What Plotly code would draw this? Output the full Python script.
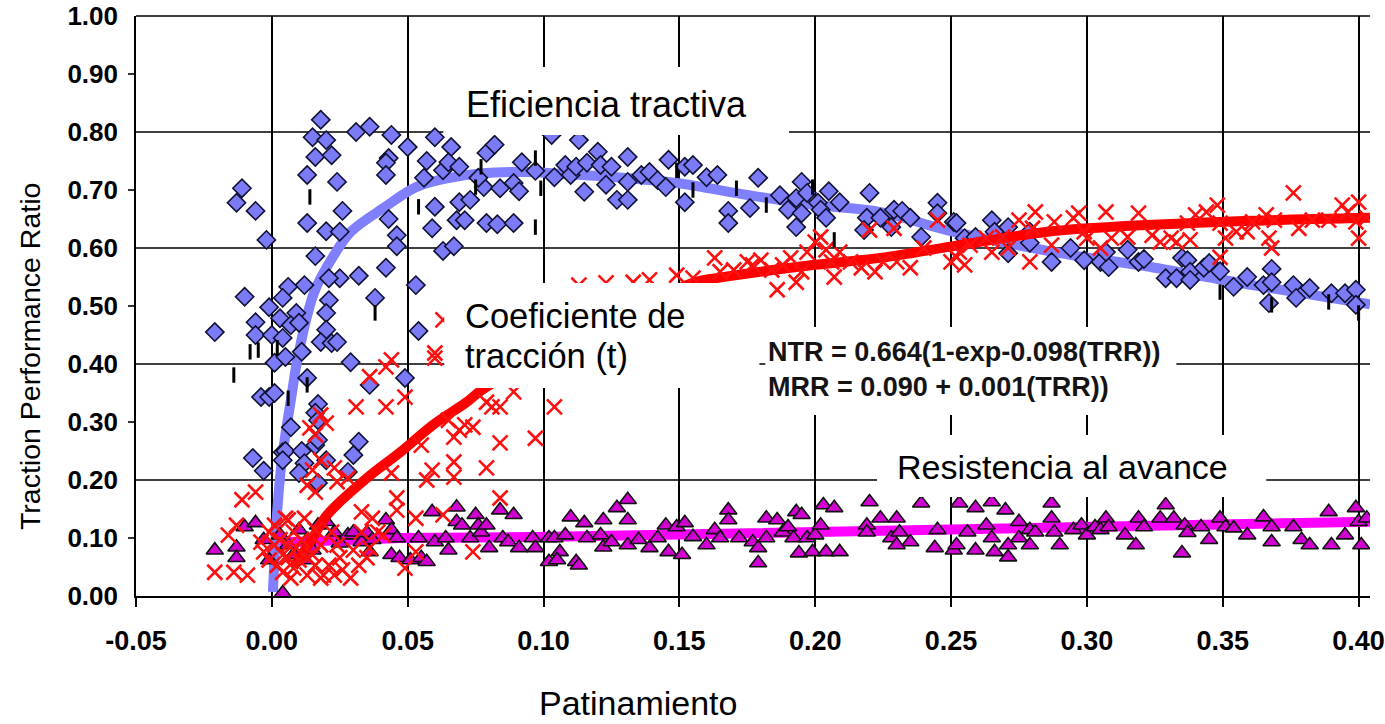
import plotly.graph_objects as go

# ---- Eficiencia tractiva (diamonds) ----
ef_x = [0.018, 0.015, 0.020, 0.031, 0.036, 0.044, 0.050, 0.060, 0.066, 0.016, 0.022, 0.043, 0.042, 0.042, 0.013,
        0.024, 0.057, 0.056, 0.063, 0.065, 0.069, 0.079, 0.082, 0.092, 0.097, 0.078, 0.084, 0.089, 0.091, -0.011,
        -0.013, -0.006, -0.002, 0.026, 0.013, 0.020, 0.025, 0.043, 0.046, 0.046, 0.060, 0.059, 0.069, 0.073, 0.068,
        0.071, 0.079, 0.083, 0.089, 0.063, 0.067, 0.016, 0.042, 0.032, 0.025, 0.021, 0.053, 0.012, 0.006, -0.010,
        0.004, 0.038, -0.001, 0.021, 0.020, 0.009, 0.003, -0.006, 0.007, 0.010, -0.021, 0.020, 0.054, -0.006, 0.000,
        0.004, 0.018, 0.022, 0.024, 0.011, 0.001, 0.005, 0.029, 0.013, 0.036, 0.049, -0.004, -0.001, 0.001, 0.017,
        0.016, 0.007, 0.017, 0.032, 0.030, -0.007, -0.003, 0.004, 0.005, 0.004, 0.011, 0.016, 0.017, 0.012, 0.010,
        0.017, 0.020, 0.028, 0.103, 0.076, 0.113, 0.104, 0.108, 0.110, 0.112, 0.116, 0.120, 0.121, 0.125, 0.115,
        0.123, 0.127, 0.131, 0.131, 0.131, 0.136, 0.139, 0.142, 0.145, 0.146, 0.152, 0.155, 0.152, 0.160, 0.164,
        0.168, 0.168, 0.176, 0.179, 0.187, 0.190, 0.193, 0.193, 0.195, 0.197, 0.195, 0.201, 0.202, 0.204, 0.205,
        0.209, 0.220, 0.219, 0.218, 0.224, 0.228, 0.229, 0.232, 0.235, 0.239, 0.245, 0.245, 0.251, 0.255, 0.259,
        0.265, 0.266, 0.271, 0.271, 0.279, 0.279, 0.287, 0.294, 0.299, 0.305, 0.308, 0.307, 0.315, 0.319, 0.321,
        0.329, 0.333, 0.335, 0.337, 0.338, 0.338, 0.343, 0.345, 0.349, 0.354, 0.359, 0.365, 0.368, 0.368, 0.367,
        0.376, 0.377, 0.382, 0.390, 0.395, 0.399, 0.399, 0.252]
ef_y = [0.821, 0.791, 0.786, 0.800, 0.809, 0.795, 0.774, 0.791, 0.774, 0.757, 0.760, 0.755, 0.747, 0.726, 0.726,
        0.714, 0.750, 0.721, 0.734, 0.748, 0.740, 0.764, 0.778, 0.748, 0.733, 0.705, 0.703, 0.712, 0.698, 0.703,
        0.678, 0.664, 0.614, 0.664, 0.643, 0.629, 0.628, 0.650, 0.622, 0.603, 0.671, 0.634, 0.679, 0.683, 0.648,
        0.648, 0.643, 0.641, 0.643, 0.595, 0.603, 0.586, 0.566, 0.552, 0.548, 0.548, 0.536, 0.536, 0.533, 0.516,
        0.514, 0.514, 0.498, 0.510, 0.488, 0.488, 0.479, 0.472, 0.467, 0.471, 0.455, 0.459, 0.457, 0.450, 0.450,
        0.445, 0.438, 0.436, 0.438, 0.421, 0.402, 0.412, 0.403, 0.376, 0.364, 0.376, 0.343, 0.343, 0.350, 0.331,
        0.316, 0.291, 0.303, 0.266, 0.243, 0.238, 0.216, 0.248, 0.250, 0.234, 0.250, 0.260, 0.269, 0.229, 0.212,
        0.195, 0.234, 0.214, 0.795, 0.721, 0.786, 0.722, 0.743, 0.726, 0.740, 0.747, 0.766, 0.743, 0.740, 0.697,
        0.709, 0.683, 0.683, 0.714, 0.757, 0.726, 0.731, 0.717, 0.705, 0.752, 0.740, 0.743, 0.679, 0.722, 0.726,
        0.664, 0.643, 0.669, 0.721, 0.691, 0.666, 0.636, 0.686, 0.714, 0.695, 0.660, 0.678, 0.666, 0.652, 0.698,
        0.679, 0.695, 0.652, 0.631, 0.652, 0.636, 0.666, 0.664, 0.652, 0.619, 0.678, 0.660, 0.645, 0.617, 0.619,
        0.648, 0.628, 0.636, 0.591, 0.628, 0.609, 0.576, 0.600, 0.579, 0.576, 0.567, 0.593, 0.597, 0.576, 0.581,
        0.548, 0.548, 0.583, 0.579, 0.559, 0.545, 0.566, 0.574, 0.560, 0.533, 0.550, 0.536, 0.564, 0.541, 0.505,
        0.536, 0.514, 0.531, 0.522, 0.522, 0.528, 0.502, 0.643]

# ---- Coeficiente de traccion (crosses) ----
ct_x = [0.044, 0.042, 0.036, 0.049, 0.060, 0.031, 0.042, 0.018, 0.020, 0.014, 0.016, 0.089, 0.104, 0.081, 0.084,
        0.079, 0.071, 0.074, 0.069, 0.065, 0.067, 0.084, 0.097, 0.067, 0.079, 0.059, 0.057, 0.067, 0.055, 0.044,
        0.018, 0.015, 0.023, 0.024, 0.013, 0.016, 0.028, 0.084, 0.046, 0.046, 0.053, 0.063, 0.037, -0.006, -0.011,
        -0.013, -0.016, -0.021, -0.014, -0.009, -0.003, 0.001, 0.006, 0.004, 0.007, 0.013, 0.018, 0.023, 0.029,
        0.013, 0.008, 0.012, 0.018, 0.022, 0.025, 0.033, 0.035, 0.039, 0.033, 0.036, 0.041, 0.049, 0.053, 0.074,
        -0.001, 0.005, -0.004, 0.002, 0.009, 0.016, 0.019, 0.060, 0.063,
        0.003, 0.006, 0.010, 0.015, 0.021, 0.026, 0.004, 0.008, 0.011, 0.016, 0.001, 0.024, 0.030, 0.032, 0.006,
        -0.001,
        0.113, 0.123, 0.133, 0.139, 0.149, 0.155, 0.163, 0.165, 0.170, 0.175, 0.177, 0.180, 0.184, 0.186, 0.188,
        0.191, 0.193, 0.195, 0.197, 0.200, 0.202, 0.204, 0.206, 0.207, 0.209, 0.213, 0.217, 0.220, 0.222, 0.225,
        0.229, 0.230, 0.235, 0.240, 0.245, 0.250, 0.253, 0.252, 0.255, 0.257, 0.263, 0.265, 0.269, 0.271, 0.275,
        0.279, 0.281, 0.280, 0.288, 0.287, 0.295, 0.297, 0.299, 0.300, 0.305, 0.307, 0.309, 0.315, 0.319, 0.324,
        0.327, 0.331, 0.333, 0.337, 0.338, 0.340, 0.344, 0.348, 0.349, 0.349, 0.351, 0.355, 0.359, 0.361, 0.366,
        0.367, 0.368, 0.369, 0.376, 0.378, 0.383, 0.389, 0.394, 0.396, 0.399, 0.400, 0.400, 0.403]
ct_y = [0.407, 0.395, 0.378, 0.343, 0.410, 0.326, 0.326, 0.312, 0.298, 0.290, 0.278, 0.352, 0.326, 0.326, 0.326,
        0.334, 0.295, 0.291, 0.286, 0.303, 0.274, 0.264, 0.272, 0.231, 0.221, 0.217, 0.200, 0.205, 0.260, 0.212,
        0.234, 0.217, 0.221, 0.197, 0.191, 0.179, 0.203, 0.169, 0.169, 0.148, 0.134, 0.140, 0.134, 0.179, 0.166,
        0.122, 0.105, 0.041, 0.041, 0.036, 0.076, 0.088, 0.066, 0.041, 0.031, 0.036, 0.031, 0.036, 0.031,
        0.066, 0.110, 0.134, 0.088, 0.110, 0.066, 0.110, 0.066, 0.110, 0.145, 0.083, 0.105, 0.048, 0.076, 0.076,
        0.110, 0.134, 0.093, 0.053, 0.083, 0.053, 0.036, 0.419, 0.476,
        0.097, 0.088, 0.062, 0.071, 0.053, 0.045, 0.071, 0.048, 0.097, 0.114, 0.122, 0.088, 0.079, 0.053, 0.131,
        0.062,
        0.536, 0.540, 0.541, 0.545, 0.553, 0.548, 0.583, 0.559, 0.562, 0.576, 0.571, 0.579, 0.562, 0.528, 0.571,
        0.583, 0.541, 0.559, 0.593, 0.610, 0.619, 0.597, 0.576, 0.550, 0.593, 0.576, 0.566, 0.631, 0.559, 0.576,
        0.634, 0.576, 0.566, 0.600, 0.648, 0.576, 0.593, 0.584, 0.571, 0.605, 0.617, 0.593, 0.619, 0.600, 0.648,
        0.576, 0.662, 0.634, 0.645, 0.605, 0.652, 0.660, 0.628, 0.617, 0.600, 0.662, 0.617, 0.619, 0.660, 0.622,
        0.610, 0.617, 0.610, 0.643, 0.614, 0.657, 0.662, 0.674, 0.643, 0.584, 0.617, 0.628, 0.628, 0.645, 0.657,
        0.617, 0.600, 0.648, 0.695, 0.634, 0.648, 0.648, 0.674, 0.662, 0.645, 0.617, 0.679, 0.652]

# ---- Resistencia al avance (triangles) ----
ra_x = [-0.021, -0.013, -0.013, -0.010, -0.006, 0.004, 0.017, 0.020, 0.023, 0.025, 0.028, 0.030, 0.033, 0.035,
        0.037, 0.036, 0.042, 0.044, 0.046, 0.044, 0.047, 0.051, 0.054, 0.055, 0.057, 0.059, 0.060, 0.064, 0.065,
        0.068, 0.068, 0.070, 0.073, 0.075, 0.076, 0.077, 0.079, 0.080, 0.084, 0.085, 0.087, 0.089, 0.091, 0.096,
        0.097, 0.102, 0.102, -0.003, 0.003, 0.006, 0.010, 0.013, -0.001, 0.008, 0.012, 0.015,
        0.104, 0.106, 0.105, 0.110, 0.108, 0.112, 0.113, 0.115, 0.116, 0.121, 0.122, 0.122, 0.125, 0.127, 0.131,
        0.131, 0.131, 0.135, 0.139, 0.142, 0.145, 0.146, 0.149, 0.152, 0.151, 0.155, 0.160, 0.163, 0.165, 0.168,
        0.168, 0.172, 0.177, 0.179, 0.179, 0.182, 0.182, 0.186, 0.188, 0.190, 0.192, 0.193, 0.195, 0.194, 0.197,
        0.199, 0.200, 0.202, 0.203, 0.204, 0.207, 0.209, 0.219, 0.220, 0.219, 0.224, 0.228, 0.230, 0.231, 0.235,
        0.230, 0.239, 0.245, 0.244, 0.251, 0.253,
        0.256, 0.252, 0.259, 0.259, 0.263, 0.265, 0.265, 0.266, 0.270, 0.271, 0.271, 0.275, 0.275, 0.279, 0.279,
        0.281, 0.287, 0.287, 0.288, 0.290, 0.295, 0.298, 0.300, 0.303, 0.305, 0.307, 0.308, 0.314, 0.318, 0.319,
        0.321, 0.327, 0.329, 0.332, 0.335, 0.336, 0.337, 0.342, 0.345, 0.349, 0.351, 0.354, 0.359, 0.365, 0.368,
        0.368, 0.376, 0.379, 0.382, 0.389, 0.390, 0.395, 0.399, 0.400, 0.401, 0.403]
ra_y = [0.079, 0.084, 0.066, 0.119, 0.126, 0.005, 0.122, 0.128, 0.110, 0.091, 0.105, 0.110, 0.093, 0.109,
        0.097, 0.076, 0.131, 0.114, 0.100, 0.071, 0.066, 0.062, 0.100, 0.066, 0.059, 0.145, 0.093, 0.100, 0.079,
        0.153, 0.128, 0.122, 0.100, 0.140, 0.122, 0.110, 0.122, 0.083, 0.148, 0.100, 0.093, 0.140, 0.083, 0.100,
        0.083, 0.100, 0.059, 0.097, 0.105, 0.088, 0.114, 0.097, 0.062, 0.071, 0.062, 0.079,
        0.100, 0.076, 0.062, 0.136, 0.105, 0.059, 0.053, 0.126, 0.100, 0.105, 0.131, 0.084, 0.093, 0.152, 0.166,
        0.131, 0.088, 0.097, 0.083, 0.100, 0.122, 0.076, 0.119, 0.126, 0.071, 0.102, 0.088, 0.114, 0.100, 0.148,
        0.131, 0.100, 0.093, 0.057, 0.083, 0.134, 0.100, 0.131, 0.110, 0.119, 0.100, 0.145, 0.140, 0.074, 0.100,
        0.076, 0.105, 0.122, 0.157, 0.076, 0.152, 0.076, 0.122, 0.162, 0.110, 0.134, 0.100, 0.134, 0.110, 0.093,
        0.088, 0.160, 0.114, 0.083, 0.079, 0.160,
        0.110, 0.088, 0.152, 0.079, 0.122, 0.162, 0.100, 0.076, 0.148, 0.067, 0.088, 0.128, 0.100, 0.114, 0.088,
        0.110, 0.160, 0.134, 0.110, 0.088, 0.114, 0.122, 0.105, 0.119, 0.114, 0.134, 0.119, 0.105, 0.088, 0.134,
        0.119, 0.134, 0.157, 0.134, 0.074, 0.122, 0.109, 0.119, 0.097, 0.134, 0.119, 0.117, 0.105, 0.136, 0.119,
        0.093, 0.119, 0.097, 0.088, 0.145, 0.088, 0.105, 0.152, 0.128, 0.088, 0.134]

# ---- short vertical marks ----
vm_x = [0.014, 0.054, 0.077, 0.075, 0.097, 0.099, 0.097, 0.038, -0.014, -0.008, -0.005, 0.002, 0.006, 0.013,
        0.149, 0.155, 0.171, 0.182, 0.199, 0.207, 0.349, 0.368, 0.389, 0.400]
vm_y = [0.688, 0.671, 0.740, 0.705, 0.755, 0.703, 0.636, 0.488, 0.381, 0.421, 0.424, 0.428, 0.341, 0.364,
        0.734, 0.700, 0.703, 0.674, 0.705, 0.614, 0.524, 0.502, 0.507, 0.488]

# ---- fitted curves ----
ef_fit_x = [0.0004, 0.0018, 0.0036, 0.0073, 0.0095, 0.0156, 0.0229, 0.0291, 0.0411, 0.0531, 0.0655, 0.0775,
            0.0956, 0.1029, 0.127, 0.149, 0.1756, 0.200, 0.224, 0.2484, 0.288, 0.325, 0.361, 0.4042]
ef_fit_y = [0.007, 0.134, 0.231, 0.347, 0.410, 0.524, 0.588, 0.628, 0.669, 0.705, 0.721, 0.729,
            0.731, 0.729, 0.722, 0.712, 0.691, 0.674, 0.662, 0.631, 0.593, 0.566, 0.536, 0.503]

ct_fit_x = [0.008, 0.015, 0.0204, 0.0349, 0.0473, 0.0593, 0.0713, 0.0785, 0.155, 0.1636, 0.200, 0.224, 0.253,
            0.282, 0.300, 0.349, 0.4042]
ct_fit_y = [0.050, 0.100, 0.140, 0.203, 0.248, 0.295, 0.333, 0.359, 0.540, 0.548, 0.571, 0.583, 0.605,
            0.626, 0.634, 0.645, 0.652]

ra_fit_x = [0.000, 0.0473, 0.1029, 0.2556, 0.4042]
ra_fit_y = [0.092, 0.100, 0.102, 0.114, 0.128]

x_ticks = [-0.05, 0.00, 0.05, 0.10, 0.15, 0.20, 0.25, 0.30, 0.35, 0.40]
x_tick_text = ["-0.05", "0.00", "0.05", "0.10", "0.15", "0.20", "0.25", "0.30", "0.35", "0.40"]
y_ticks = [0.0, 0.1, 0.2, 0.3, 0.4, 0.5, 0.6, 0.7, 0.8, 0.9, 1.0]
y_tick_text = ["0.00", "0.10", "0.20", "0.30", "0.40", "0.50", "0.60", "0.70", "0.80", "0.90", "1.00"]
y_grid = [0.2, 0.4, 0.6, 0.8, 1.0]
y_minor = [0.1, 0.3, 0.5, 0.7, 0.9]

FONT = "Liberation Sans, Arial, sans-serif"

fig = go.Figure()

fig.add_trace(go.Scatter(x=ra_fit_x, y=ra_fit_y, mode="lines", line=dict(color="#ff00ff", width=10),
                         hoverinfo="skip", showlegend=False))
fig.add_trace(go.Scatter(x=ef_fit_x, y=ef_fit_y, mode="lines", line=dict(color="#8080ff", width=10, shape="spline"),
                         hoverinfo="skip", showlegend=False))
fig.add_trace(go.Scatter(x=ef_x, y=ef_y, mode="markers", showlegend=False,
                         marker=dict(symbol="diamond", size=14, color="#7b7bf7",
                                     line=dict(color="#111133", width=1.6))))
fig.add_trace(go.Scatter(x=ra_x, y=ra_y, mode="markers", showlegend=False,
                         marker=dict(symbol="triangle-up", size=15, color="#d000d0",
                                     line=dict(color="#111111", width=1.6))))
fig.add_trace(go.Scatter(x=ct_fit_x, y=ct_fit_y, mode="lines", line=dict(color="#ff0000", width=10, shape="spline"),
                         hoverinfo="skip", showlegend=False))
fig.add_trace(go.Scatter(x=ct_x, y=ct_y, mode="markers", showlegend=False,
                         marker=dict(symbol="x-thin", size=15, color="#ff0000",
                                     line=dict(color="#ff1010", width=2.6))))
fig.add_trace(go.Scatter(x=vm_x, y=vm_y, mode="markers", showlegend=False,
                         marker=dict(symbol="line-ns", size=11, color="#000000",
                                     line=dict(color="#000000", width=3))))

shapes = []
# horizontal grid lines every 0.2
for g in y_grid:
    shapes.append(dict(type="line", xref="paper", yref="paper", x0=0, x1=1, y0=g, y1=g,
                       line=dict(color="#000000", width=1.6), layer="below"))
# small outside ticks on the left axis at the odd tenths
for m in y_minor:
    shapes.append(dict(type="line", xref="paper", yref="y", xsizemode="pixel", xanchor=0,
                       x0=-8, x1=0, y0=m, y1=m, line=dict(color="#000000", width=1.6)))

# white label panels sitting over the data
panels = [
    (0.2490, 0.5292, 0.795, 0.912),
    (0.2498, 0.5052, 0.3586, 0.5397),
    (0.5100, 0.8431, 0.3121, 0.4638),
    (0.6005, 0.9159, 0.1707, 0.2776),
]
for x0, x1, y0, y1 in panels:
    shapes.append(dict(type="rect", xref="paper", yref="paper", x0=x0, x1=x1, y0=y0, y1=y1,
                       fillcolor="#ffffff", line=dict(width=0), layer="above"))

annotations = [
    dict(text="Eficiencia tractiva", x=0.3811, y=0.8466, xanchor="center", yanchor="middle",
         font=dict(family=FONT, size=36, color="#000000")),
    dict(text="Coeficiente de", x=0.2650, y=0.4828, xanchor="left", yanchor="middle",
         font=dict(family=FONT, size=34.5, color="#000000")),
    dict(text="tracción (t)", x=0.2650, y=0.4138, xanchor="left", yanchor="middle",
         font=dict(family=FONT, size=34.5, color="#000000")),
    dict(text="NTR = 0.664(1-exp-0.098(TRR))", x=0.5108, y=0.4207, xanchor="left", yanchor="middle",
         font=dict(family=FONT, size=27, color="#141414", weight="bold")),
    dict(text="MRR = 0.090 + 0.001(TRR))", x=0.5108, y=0.3603, xanchor="left", yanchor="middle",
         font=dict(family=FONT, size=27, color="#141414", weight="bold")),
    dict(text="Resistencia al avance", x=0.7510, y=0.2224, xanchor="center", yanchor="middle",
         font=dict(family=FONT, size=34, color="#000000")),
    dict(text="Patinamiento", x=0.4067, y=-0.2185, xanchor="center", yanchor="bottom", borderpad=0,
         font=dict(family=FONT, size=34, color="#000000")),
    dict(text="Traction Performance Ratio", x=0, xshift=-106, y=0.412, xanchor="center", yanchor="middle",
         textangle=-90, font=dict(family=FONT, size=28.5, color="#000000")),
]
for a in annotations:
    a.update(xref="paper", yref="paper", showarrow=False)

fig.update_layout(
    width=1385, height=724,
    margin=dict(l=136, r=0, t=16, b=128),
    paper_bgcolor="#ffffff", plot_bgcolor="#ffffff",
    font=dict(family=FONT, color="#000000"),
    showlegend=False,
    shapes=shapes,
    annotations=annotations,
    xaxis=dict(range=[-0.05, 0.4042], tickvals=x_ticks, ticktext=x_tick_text,
               showgrid=True, gridcolor="#000000", gridwidth=1.6, zeroline=False,
               showline=True, linecolor="#000000", linewidth=1.6,
               ticks="outside", ticklen=9, tickwidth=1.6, tickcolor="#000000",
               ticklabelstandoff=11, ticklabeloverflow="allow",
               tickfont=dict(family=FONT, size=27, color="#000000", weight="bold")),
    yaxis=dict(range=[0, 1.0], tickvals=y_ticks, ticktext=y_tick_text,
               showgrid=False, zeroline=False,
               showline=True, linecolor="#000000", linewidth=1.6,
               ticks="outside", ticklen=8, tickcolor="rgba(0,0,0,0)",
               ticklabelstandoff=3, ticklabeloverflow="allow",
               tickfont=dict(family=FONT, size=26, color="#000000", weight="bold")),
)

fig.write_html("out.html")
